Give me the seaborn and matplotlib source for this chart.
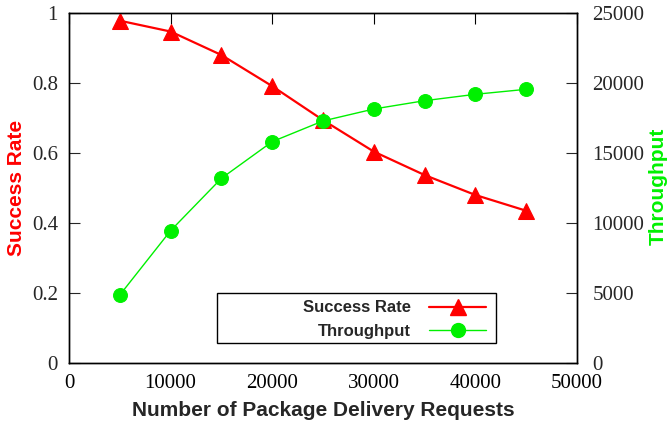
import matplotlib
matplotlib.use("Agg")
import matplotlib.pyplot as plt
import seaborn as sns
import pandas as pd
from matplotlib.lines import Line2D
from matplotlib.patches import Rectangle

requests = [5000, 10000, 15000, 20000, 25000, 30000, 35000, 40000, 45000]
success_rate = [0.978, 0.947, 0.880, 0.791, 0.694, 0.604, 0.537, 0.480, 0.435]
throughput = [4857, 9452, 13190, 15810, 17290, 18143, 18736, 19193, 19550]

x_ticks = [0, 10000, 20000, 30000, 40000, 50000]
y1_ticks = [0, 0.2, 0.4, 0.6, 0.8, 1]
y1_labels = ["0", "0.2", "0.4", "0.6", "0.8", "1"]
y2_ticks = [0, 5000, 10000, 15000, 20000, 25000]

sns.set_style("white")
plt.rcParams["font.family"] = ["Liberation Serif", "DejaVu Serif"]

df = pd.DataFrame({"req": requests, "sr": success_rate, "tp": throughput})

W, H = 668, 429
AX_L, AX_R, AX_T, AX_B = 69, 577, 13, 363
fig = plt.figure(figsize=(6.68, 4.29), dpi=100)
ax = fig.add_axes([AX_L / W, 1 - AX_B / H, (AX_R - AX_L) / W, (AX_B - AX_T) / H])
ax2 = ax.twinx()

red = "#ff0000"
green = "#00f000"

sns.lineplot(data=df, x="req", y="sr", ax=ax, color=red, lw=1.6,
             marker="^", markersize=11, markeredgecolor=red, zorder=3)
sns.lineplot(data=df, x="req", y="tp", ax=ax2, color=green, lw=1.0,
             marker="o", markersize=10, markeredgecolor=green, zorder=3)

ax.set_xlim(0, 50000)
ax.set_ylim(0, 1)
ax2.set_ylim(0, 25000)
ax.set_xticks(x_ticks)
ax.set_xticklabels([str(t) for t in x_ticks])
ax.set_yticks(y1_ticks)
ax.set_yticklabels(y1_labels)
ax2.set_yticks(y2_ticks)
ax2.set_yticklabels([str(t) for t in y2_ticks])

for a in (ax, ax2):
    for s in a.spines.values():
        s.set_visible(True)
        s.set_color("black")
        s.set_linewidth(1.0)

ax.tick_params(axis="x", direction="in", length=8, width=0.8, top=True,
               labelsize=15, pad=8, colors="black")
ax.tick_params(axis="y", direction="in", length=8, width=0.8, left=True,
               right=False, labelsize=15, pad=8)
ax2.tick_params(axis="y", direction="in", length=8, width=0.8, right=True,
                labelsize=15, pad=11)

sans_bold = dict(family=["Liberation Sans", "DejaVu Sans"], weight="bold", size=15)
ax.set_xlabel("Number of Package Delivery Requests", labelpad=6, **sans_bold)
ax.set_ylabel("Success Rate", color=red, va="center", **sans_bold)
ax2.set_ylabel("Throughput", color=green, va="center", rotation=90, **sans_bold)
ax.yaxis.set_label_coords((17 - AX_L) / (AX_R - AX_L), 0.5)
ax2.yaxis.set_label_coords((658 - AX_L) / (AX_R - AX_L), 0.505)

# legend frame
fig.patches.append(Rectangle((217 / W, 1 - 343 / H), (496 - 217) / W, 50 / H,
                             transform=fig.transFigure, fill=False,
                             edgecolor="black", linewidth=1.0, zorder=5))

handles = [
    Line2D([], [], color=red, lw=1.6, marker="^", markersize=11),
    Line2D([], [], color=green, lw=1.0, marker="o", markersize=10),
]
leg = ax2.legend(handles, ["Success Rate", "Throughput"], loc="center right",
                 bbox_to_anchor=(486 / W, 1 - 319.5 / H),
                 bbox_transform=fig.transFigure,
                 markerfirst=False, frameon=False, borderaxespad=0, borderpad=0,
                 prop=dict(family=["Liberation Sans", "DejaVu Sans"], weight="bold", size=12),
                 handlelength=3.4, labelspacing=0.5, handletextpad=1.1,
                 alignment="right")
leg.set_zorder(6)
for t in leg.get_texts():
    t.set_ha("right")
leg._legend_box.align = "right"

fig.savefig("out.png", dpi=100)
